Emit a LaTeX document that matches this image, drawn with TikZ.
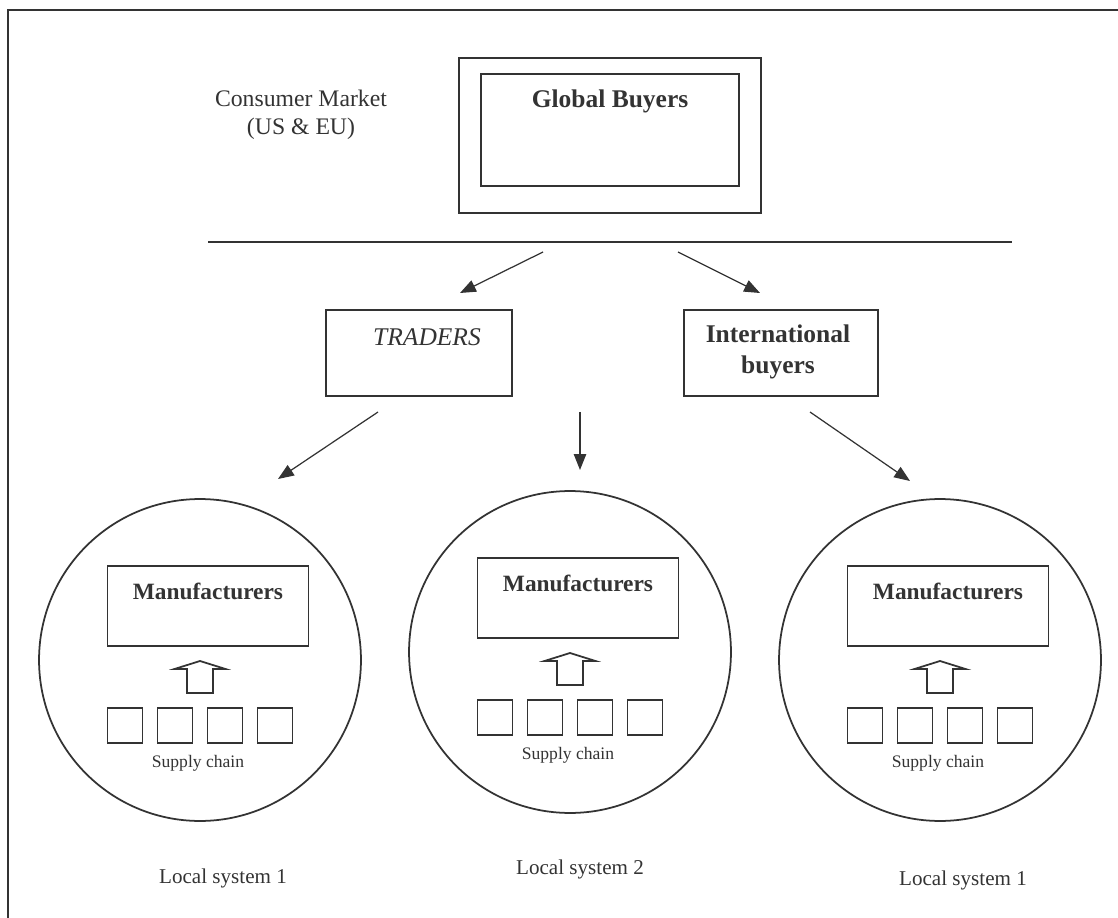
\documentclass[tikz,border=0pt]{standalone}
\usepackage{fontspec}
\setmainfont{Liberation Serif}
\usetikzlibrary{arrows.meta,positioning,calc}

\begin{document}
\begin{tikzpicture}[x=0.02cm, y=-0.02cm, black!80,
    box/.style={draw, line width=1pt, inner sep=0pt},
    arr/.style={-{Triangle[length=9pt,width=7pt]}, line width=0.7pt},
    big/.style={font=\fontsize{14.5}{17}\selectfont},
    mid/.style={font=\fontsize{13.5}{16}\selectfont}]
    \useasboundingbox (0,0) rectangle (1118,918);
    % 外框
    \draw[line width=1.4pt] (1118,10) -- (8,10) -- (8,918);
    % 全球买家
    \node[box, minimum width=6.04cm, minimum height=3.1cm] (gbout) at (610,135.5) {};
    \node[box, minimum width=5.16cm, minimum height=2.24cm] (gbin) at (610,130) {};
    \node[font=\fontsize{14.5}{17}\selectfont\bfseries] (gbtext) at (610,101) {Global Buyers};
    \node[mid, align=center] (market) at (301,115) {Consumer Market\\(US \& EU)};
    \draw[line width=0.9pt] (208,242) -- (1012,242);
    % 中间商
    \node[box, minimum width=3.72cm, minimum height=1.72cm] (traders) at (419,353) {};
    \node[font=\fontsize{14.5}{17}\selectfont\itshape] (trtext) at (427,337) {TRADERS};
    \node[box, minimum width=3.88cm, minimum height=1.72cm] (intl) at (781,353) {};
    \node[font=\fontsize{14.5}{17.5}\selectfont\bfseries, align=center] (intext) at (778,352) {International\\buyers};
    % 箭头
    \coordinate (a1) at (543,252); \coordinate (b1) at (460,293);
    \coordinate (a2) at (678,252); \coordinate (b2) at (760,293);
    \coordinate (a3) at (378,412); \coordinate (b3) at (278,479);
    \coordinate (a4) at (580,412); \coordinate (b4) at (580,470);
    \coordinate (a5) at (810,412); \coordinate (b5) at (910,481);
    \foreach \i in {1,...,5}
        \draw[arr] (a\i) -- (b\i);
    % 本地系统
    \foreach \k/\cx/\cy/\lx/\ly/\n in {1/200/660/223/878/1, 2/570/652/580/869/2, 3/940/660/963/880/1} {
        \node[circle, draw, line width=1pt, minimum size=6.44cm, inner sep=0pt] (ls\k) at (\cx,\cy) {};
        \node[box, minimum width=4.02cm, minimum height=1.6cm] (m\k) at (\cx+8,\cy-54) {};
        \node[font=\fontsize{13.3}{16}\selectfont\bfseries] (mt\k) at ($(m\k.north)+(0,26)$) {Manufacturers};
        \draw[line width=1pt] (\cx,\cy+1) -- (\cx+25.5,\cy+9) -- (\cx+13,\cy+9) -- (\cx+13,\cy+33)
            -- (\cx-13,\cy+33) -- (\cx-13,\cy+9) -- (\cx-25.5,\cy+9) -- cycle;
        \foreach \j in {1,...,4} {
            \pgfmathsetmacro{\sx}{\cx+50*\j-125}
            \node[box, minimum size=0.7cm] (s\k\j) at (\sx,\cy+65.5) {};
        }
        \node[font=\fontsize{10}{12}\selectfont] (sc\k) at (\cx-2,\cy+103) {Supply chain};
        \node[font=\fontsize{12}{14}\selectfont] (lab\k) at (\lx,\ly) {Local system \n};
    }
\end{tikzpicture}
\end{document}
